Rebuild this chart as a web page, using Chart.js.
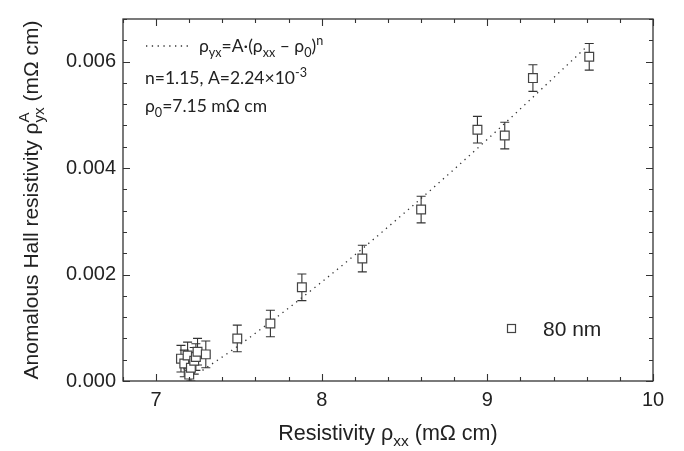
<!DOCTYPE html>
<html>
<head>
<meta charset="utf-8">
<script src="https://cdn.jsdelivr.net/npm/chart.js@4.4.1/dist/chart.umd.min.js"></script>
<style>
  html, body { margin: 0; padding: 0; background: #fff; }
  #wrap { width: 684px; height: 451px; position: relative; }
</style>
</head>
<body>
<div id="wrap"><canvas id="chart"></canvas></div>
<script>
// Measured data (80 nm film)
const rhoXX = [7.15, 7.17, 7.19, 7.20, 7.21, 7.23, 7.24, 7.25, 7.30, 7.49, 7.69, 7.88, 8.245, 8.60, 8.94, 9.105, 9.275, 9.615];
const rhoYX = [0.00042, 0.00033, 0.00048, 0.00012, 0.00025, 0.00038, 0.00045, 0.00055, 0.00050, 0.00080, 0.00108, 0.00176, 0.00230, 0.00322, 0.00472, 0.00461, 0.00569, 0.00609];
const rhoErr = [0.00025, 0.00025, 0.00025, 0.00025, 0.00025, 0.00025, 0.00025, 0.00025, 0.00025, 0.00025, 0.00025, 0.00025, 0.00025, 0.00025, 0.00025, 0.00025, 0.00025, 0.00025];

// Fit curve
const fitX = [7.28, 7.50, 8.00, 8.50, 9.00, 9.60];
const fitY = [0.00020, 0.00067, 0.00186, 0.00316, 0.00454, 0.00628];

// Axis ticks
const xTickValues = [7, 8, 9, 10];
const yTickValues = [0, 0.002, 0.004, 0.006];

const plotFont = '"Liberation Sans", Arial, sans-serif';
const noteFont = 'Lato, "Liberation Sans", sans-serif';
const ink = '#222';

// draw text made of normal / sub / sup pieces, returns width
function richText(ctx, parts, x, y, size, family, measureOnly) {
    let cx = x;
    parts.forEach(p => {
        if (p.sub !== undefined || p.sup !== undefined) {
            const s = size * 0.72;
            ctx.font = s + 'px ' + family;
            const wSub = p.sub ? ctx.measureText(p.sub).width : 0;
            const wSup = p.sup ? ctx.measureText(p.sup).width : 0;
            if (!measureOnly) {
                if (p.sub) ctx.fillText(p.sub, cx, y + size * 0.28);
                if (p.sup) ctx.fillText(p.sup, cx, y - size * 0.42);
            }
            cx += Math.max(wSub, wSup);
        } else {
            ctx.font = size + 'px ' + family;
            if (!measureOnly) ctx.fillText(p.t, cx, y);
            cx += ctx.measureText(p.t).width;
        }
    });
    return cx - x;
}

const decorPlugin = {
    id: 'decor',
    beforeDatasetsDraw(chart) {
        // error bars
        const { ctx, chartArea: a } = chart;
        const xs = chart.scales.x, ys = chart.scales.y;
        ctx.save();
        ctx.beginPath();
        ctx.rect(a.left, a.top, a.right - a.left, a.bottom - a.top);
        ctx.clip();
        ctx.strokeStyle = '#333';
        ctx.lineWidth = 1.1;
        rhoXX.forEach((xv, i) => {
            const px = xs.getPixelForValue(xv);
            const top = ys.getPixelForValue(rhoYX[i] + rhoErr[i]);
            const bot = ys.getPixelForValue(rhoYX[i] - rhoErr[i]);
            ctx.beginPath();
            ctx.moveTo(px, top); ctx.lineTo(px, bot);
            ctx.moveTo(px - 4.5, top); ctx.lineTo(px + 4.5, top);
            ctx.moveTo(px - 4.5, bot); ctx.lineTo(px + 4.5, bot);
            ctx.stroke();
        });
        ctx.restore();
    },
    afterDraw(chart) {
        const { ctx, chartArea: a } = chart;
        const xs = chart.scales.x, ys = chart.scales.y;
        ctx.save();
        // frame
        ctx.strokeStyle = '#333';
        ctx.lineWidth = 1.3;
        ctx.strokeRect(a.left, a.top, a.right - a.left, a.bottom - a.top);
        // inward ticks, all four sides
        ctx.lineWidth = 1.1;
        ctx.beginPath();
        for (let k = 34; k <= 50; k++) {
            const px = Math.round(xs.getPixelForValue(k / 5)) + 0.5;
            const len = k % 5 === 0 ? 7 : 4;
            ctx.moveTo(px, a.bottom); ctx.lineTo(px, a.bottom - len);
            ctx.moveTo(px, a.top); ctx.lineTo(px, a.top + len);
        }
        for (let k = 0; k <= 17; k++) {
            const py = Math.round(ys.getPixelForValue(k * 0.0004)) + 0.5;
            const len = k % 5 === 0 ? 7 : 4;
            ctx.moveTo(a.left, py); ctx.lineTo(a.left + len, py);
            ctx.moveTo(a.right, py); ctx.lineTo(a.right - len, py);
        }
        ctx.stroke();

        ctx.fillStyle = ink;
        ctx.textBaseline = 'alphabetic';
        ctx.textAlign = 'left';

        // x axis title
        const xTitle = [{ t: 'Resistivity ρ' }, { sub: 'xx' }, { t: ' (mΩ cm)' }];
        let w = richText(ctx, xTitle, 0, 0, 21.5, plotFont, true);
        richText(ctx, xTitle, (a.left + a.right) / 2 - w / 2, 440, 21.5, plotFont);

        // y axis title
        const yTitle = [{ t: 'Anomalous Hall resistivity ρ' }, { sub: 'yx', sup: 'A' }, { t: ' (mΩ cm)' }];
        w = richText(ctx, yTitle, 0, 0, 21, plotFont, true);
        ctx.save();
        ctx.translate(38, (a.top + a.bottom) / 2);
        ctx.rotate(-Math.PI / 2);
        richText(ctx, yTitle, -w / 2, 0, 21, plotFont);
        ctx.restore();

        // fit note, top left
        ctx.strokeStyle = '#333';
        ctx.lineWidth = 1.3;
        ctx.setLineDash([1.3, 4.5]);
        ctx.beginPath();
        ctx.moveTo(146, 46); ctx.lineTo(190, 46);
        ctx.stroke();
        ctx.setLineDash([]);
        richText(ctx, [{ t: 'ρ' }, { sub: 'yx' }, { t: '=A·(ρ' }, { sub: 'xx' }, { t: ' – ρ' }, { sub: '0' }, { t: ')' }, { sup: 'n' }], 199, 52, 17.5, noteFont);
        richText(ctx, [{ t: 'n=1.15, A=2.24×10' }, { sup: '-3' }], 145, 84, 17.5, noteFont);
        richText(ctx, [{ t: 'ρ' }, { sub: '0' }, { t: '=7.15 mΩ cm' }], 145, 112, 17.5, noteFont);

        // legend, lower right
        const ds = chart.data.datasets[1];
        ctx.strokeStyle = '#444';
        ctx.lineWidth = 1.2;
        ctx.fillStyle = '#fff';
        ctx.fillRect(507, 324, 8, 8);
        ctx.strokeRect(507.5, 324.5, 8, 8);
        ctx.fillStyle = ink;
        ctx.font = '21px ' + plotFont;
        ctx.fillText(ds.label, 543, 336);
        ctx.restore();
    }
};

new Chart(document.getElementById('chart'), {
    data: {
        datasets: [{
            type: 'line',
            label: 'fit',
            data: fitX.map((x, i) => ({ x: x, y: fitY[i] })),
            borderColor: '#333',
            borderWidth: 1.3,
            borderDash: [1.3, 4.5],
            pointRadius: 0,
            cubicInterpolationMode: 'monotone',
            fill: false,
            order: 2
        }, {
            type: 'scatter',
            label: '80 nm',
            data: rhoXX.map((x, i) => ({ x: x, y: rhoYX[i] })),
            pointStyle: 'rect',
            pointRadius: 6.2,
            pointBackgroundColor: '#fff',
            pointBorderColor: '#444',
            pointBorderWidth: 1.2,
            clip: false,
            order: 1
        }]
    },
    options: {
        responsive: true,
        maintainAspectRatio: false,
        animation: false,
        layout: { padding: { left: 0, right: 31, top: 10, bottom: 0 } },
        plugins: {
            legend: { display: false },
            tooltip: { enabled: false }
        },
        scales: {
            x: {
                type: 'linear',
                min: 6.8,
                max: 10,
                afterBuildTicks: s => { s.ticks = xTickValues.map(v => ({ value: v })); },
                afterFit: s => { s.height = 70; },
                grid: { display: false, drawTicks: false },
                border: { display: false },
                ticks: {
                    font: { family: plotFont, size: 20 },
                    color: ink,
                    padding: 7,
                    maxRotation: 0,
                    callback: v => String(v)
                }
            },
            y: {
                type: 'linear',
                min: 0,
                max: 0.0068,
                afterBuildTicks: s => { s.ticks = yTickValues.map(v => ({ value: v })); },
                afterFit: s => { s.width = 123; },
                grid: { display: false, drawTicks: false },
                border: { display: false },
                ticks: {
                    font: { family: plotFont, size: 20 },
                    color: ink,
                    padding: 7,
                    callback: v => v.toFixed(3)
                }
            }
        }
    },
    plugins: [decorPlugin]
});
</script>
</body>
</html>
